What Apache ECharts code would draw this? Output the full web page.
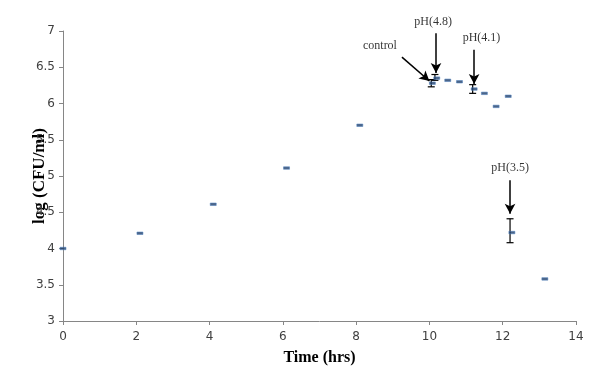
<!DOCTYPE html>
<html>
<head>
<meta charset="utf-8">
<script src="https://cdn.jsdelivr.net/npm/echarts@6/dist/echarts.min.js"></script>
<style>
  html, body { margin: 0; padding: 0; background: #fff; }
  #chart { width: 604px; height: 376px; }
</style>
</head>
<body>
<div id="chart"></div>
<script>
// measured points (time in hrs, log CFU/ml)
var timeHrs = [0, 2.1, 4.1, 6.1, 8.1, 10.08, 10.2, 10.5, 10.82, 11.22, 11.5, 11.82, 12.15, 12.25, 13.15];
var logCfu = [4.0, 4.21, 4.61, 5.11, 5.7, 6.28, 6.35, 6.32, 6.3, 6.2, 6.14, 5.96, 6.1, 4.22, 3.58];

// error bars: [time, low, high]
var errX = [10.05, 10.15, 11.18, 12.2];
var errLow = [6.23, 6.32, 6.14, 4.08];
var errHigh = [6.33, 6.4, 6.26, 4.41];

// annotations: text, label position, arrow start, arrow end
var noteText = ["control", "pH(4.8)", "pH(4.1)", "pH(3.5)"];
var noteAt = [[8.65, 6.8], [10.1, 7.13], [11.42, 6.9], [12.2, 5.11]];
var arrowFrom = [[9.25, 6.64], [10.18, 6.97], [11.22, 6.74], [12.2, 4.94]];
var arrowTo = [[10.0, 6.31], [10.18, 6.42], [11.22, 6.27], [12.2, 4.48]];

var xTicks = [0, 14, 2];
var yTicks = [3, 7, 0.5];

var chart = echarts.init(document.getElementById("chart"));

var points = timeHrs.map(function (t, i) { return [t, logCfu[i]]; });
var bars = errX.map(function (t, i) { return [t, errLow[i], errHigh[i]]; });
var notes = noteText.map(function (s, i) { return { name: s, value: noteAt[i] }; });
var arrows = arrowFrom.map(function (p, i) {
  return [{ coord: p }, { coord: arrowTo[i] }];
});

var axisText = { color: "#404040", fontSize: 12, fontFamily: "DejaVu Sans" };
var axisLine = { lineStyle: { color: "#868686", width: 1 } };

var option = {
  animation: false,
  grid: { left: 63, right: 28, top: 31, bottom: 55 },
  xAxis: {
    type: "value",
    min: xTicks[0],
    max: xTicks[1],
    interval: xTicks[2],
    name: "Time (hrs)",
    nameLocation: "middle",
    nameGap: 29,
    nameMoveOverlap: false,
    nameTextStyle: { fontFamily: "Liberation Serif", fontWeight: "bold", fontSize: 16, color: "#000" },
    axisLine: axisLine,
    axisTick: { show: true, length: 4, lineStyle: { color: "#868686" } },
    axisLabel: Object.assign({ margin: 10 }, axisText),
    splitLine: { show: false }
  },
  yAxis: {
    type: "value",
    min: yTicks[0],
    max: yTicks[1],
    interval: yTicks[2],
    name: "log (CFU/ml)",
    nameLocation: "middle",
    nameGap: 15,
    nameMoveOverlap: false,
    nameRotate: 90,
    nameTextStyle: { fontFamily: "Liberation Serif", fontWeight: "bold", fontSize: 17, color: "#000" },
    axisLine: Object.assign({ show: true }, axisLine),
    axisTick: { show: true, length: 4, lineStyle: { color: "#868686" } },
    axisLabel: Object.assign({ margin: 8 }, axisText),
    splitLine: { show: false }
  },
  series: [
    {
      type: "custom",
      name: "error",
      data: bars,
      clip: false,
      z: 3,
      renderItem: function (params, api) {
        var x = api.value(0);
        var lo = api.coord([x, api.value(1)]);
        var hi = api.coord([x, api.value(2)]);
        var style = { stroke: "#000", lineWidth: 1.2 };
        return {
          type: "group",
          children: [
            { type: "line", shape: { x1: lo[0], y1: lo[1], x2: hi[0], y2: hi[1] }, style: style },
            { type: "line", shape: { x1: lo[0] - 3.5, y1: lo[1], x2: lo[0] + 3.5, y2: lo[1] }, style: style },
            { type: "line", shape: { x1: hi[0] - 3.5, y1: hi[1], x2: hi[0] + 3.5, y2: hi[1] }, style: style }
          ]
        };
      }
    },
    {
      type: "scatter",
      name: "log CFU",
      data: points,
      symbol: "rect",
      symbolSize: [6, 2.5],
      itemStyle: { color: "#1F3F6A", borderColor: "#4F81BD", borderWidth: 0.6 },
      z: 4
    },
    {
      type: "scatter",
      name: "notes",
      data: notes,
      symbolSize: 0,
      clip: false,
      silent: true,
      label: {
        show: true,
        position: "inside",
        formatter: "{b}",
        fontFamily: "Liberation Serif",
        fontSize: 12,
        color: "#000"
      },
      markLine: {
        silent: true,
        symbol: ["none", "arrow"],
        symbolSize: [8, 10],
        label: { show: false },
        lineStyle: { color: "#000", width: 1.5, type: "solid" },
        data: arrows
      }
    }
  ]
};

chart.setOption(option);
</script>
</body>
</html>
